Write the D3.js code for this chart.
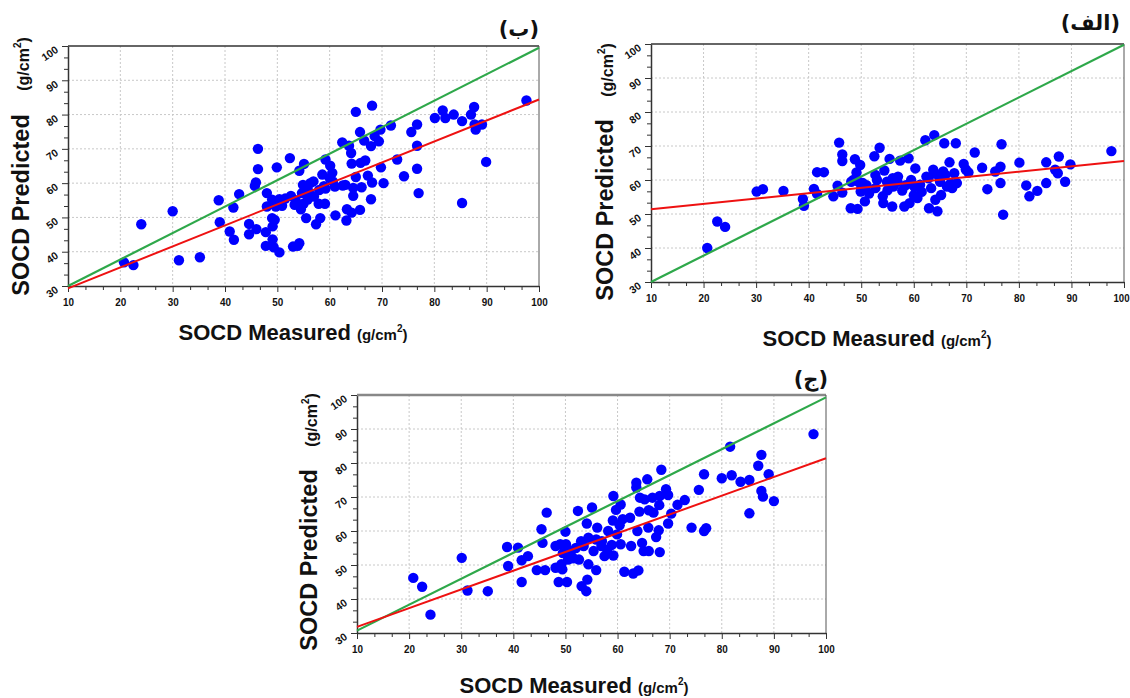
<!DOCTYPE html>
<html>
<head>
<meta charset="utf-8">
<script src="https://cdn.jsdelivr.net/npm/d3@7"></script>
<style>
  body { margin: 0; background: #fff; }
  svg { display: block; font-family: "Liberation Sans", Arial, sans-serif; }
</style>
</head>
<body>
<svg id="chart" width="1130" height="698"></svg>
<script>
// axis ticks (same for all three panels)
const xTicks = [10, 20, 30, 40, 50, 60, 70, 80, 90, 100];
const yTicks = [30, 40, 50, 60, 70, 80, 90, 100];

const xTitle = "SOCD Measured";
const yTitle = "SOCD Predicted";
const unitText = "(g/cm";

const panelLabels = ["(الف)", "(ب)", "(ج)"];

// panel الف : measured vs predicted
const pointsAlef = [
  [20.7,40.0],[22.6,47.8],[24.1,46.2],[30.1,56.6],[31.3,57.3],[35.2,56.8],[38.9,54.4],[39.1,52.4],
  [41.0,57.4],[41.6,62.3],[41.6,55.9],[42.9,62.3],[44.7,55.2],[45.5,58.3],[45.8,71.0],[46.4,67.5],
  [46.4,65.6],[46.4,56.3],[48.0,51.7],[48.1,59.5],[48.8,66.1],[49.1,62.2],[49.3,51.5],[49.5,59.5],
  [49.8,64.4],[49.9,56.6],[50.3,59.1],[50.7,53.7],[52.5,67.0],[52.7,61.5],[52.7,57.6],[53.5,69.5],
  [54.1,55.2],[54.2,53.2],[54.4,62.8],[54.9,59.5],[55.4,66.2],[55.9,52.2],[56.1,58.1],[56.9,59.5],
  [57.4,65.7],[57.8,56.9],[58.2,52.2],[59.0,66.4],[59.2,53.2],[59.5,60.0],[60.1,58.1],[60.3,63.4],
  [60.7,54.7],[61.2,58.6],[62.2,71.7],[62.4,61.0],[62.9,51.7],[63.3,57.6],[63.7,63.0],[63.9,73.2],
  [64.1,54.2],[64.5,50.8],[65.0,59.5],[65.2,55.6],[65.6,62.5],[65.8,70.8],[66.3,58.1],[66.8,65.2],
  [67.3,57.6],[67.7,62.0],[68.0,70.8],[68.2,59.1],[69.5,64.7],[69.9,63.1],[70.4,62.2],[71.6,68.1],
  [73.0,63.6],[74.0,57.3],[75.5,62.5],[76.5,63.9],[76.7,70.5],[76.5,59.1],[77.0,49.8],[80.1,65.1],
  [81.4,58.4],[82.0,55.2],[83.5,56.8],[85.2,65.2],[85.2,59.1],[86.9,63.0],[87.6,66.9],[87.4,62.0],
  [88.8,59.5],[89.8,64.6],[97.6,68.5],
  [50.0,57.5],[51.0,58.5],[53.0,60.0],[55.0,57.0],[57.0,61.0],[58.5,58.5],[61.5,56.5],[62.8,60.5],
  [64.0,62.0],[64.8,61.0],[66.0,61.5],[67.0,59.0],[48.5,60.0],[51.5,56.0],[56.0,60.5],[60.0,55.5]
];
const fitAlef = [[10, 51.4], [100, 65.6]];
const diagAlef = [[10, 30], [100, 99.8]];

// panel ب
const pointsBe = [
  [20.7,36.9],[22.5,36.1],[24.0,48.0],[30.0,51.8],[31.2,37.5],[35.2,38.4],[38.8,55.0],[39.0,48.6],
  [40.9,45.9],[41.6,52.9],[41.7,43.5],[42.7,56.8],[44.6,48.1],[44.6,45.1],[45.7,59.2],[45.9,60.2],
  [46.0,46.6],[46.3,70.0],[46.3,64.1],[48.0,57.1],[48.0,53.2],[47.8,45.7],[47.8,41.7],[49.0,55.2],
  [49.0,49.8],[49.1,47.4],[49.1,43.6],[49.3,41.3],[49.5,49.3],[49.9,64.6],[49.7,53.2],[50.4,39.8],
  [50.4,55.3],[50.9,53.4],[52.4,67.3],[52.6,56.3],[53.0,41.5],[53.3,53.7],[53.9,41.7],[54.2,42.5],
  [54.2,63.6],[54.7,57.1],[54.5,52.4],[55.1,65.6],[54.9,59.5],[55.5,49.8],[55.8,55.2],[56.3,60.0],
  [56.9,60.5],[57.0,56.1],[57.4,48.0],[57.9,54.0],[58.2,49.8],[58.6,62.5],[58.9,59.1],[59.1,54.0],
  [59.2,66.9],[59.2,58.4],[60.1,65.1],[60.5,63.0],[60.6,60.5],[61.1,50.6],[62.4,71.9],[62.5,59.3],
  [63.2,49.1],[63.3,52.4],[63.7,70.9],[64.1,68.8],[64.2,65.7],[64.5,58.6],[64.5,56.3],[64.2,51.4],
  [65.0,80.8],[65.0,61.8],[65.8,74.9],[65.9,65.9],[66.1,58.8],[65.8,52.2],[66.6,72.4],[66.8,66.6],
  [67.3,62.2],[67.9,70.8],[68.1,82.6],[68.1,60.2],[67.9,55.3],[68.6,73.7],[69.4,72.2],[69.7,75.6],
  [69.8,64.6],[70.3,60.0],[71.7,76.8],[72.9,66.9],[74.2,62.0],[75.6,74.9],[76.7,77.1],[76.7,70.9],
  [76.7,64.2],[77.0,57.1],[80.1,79.0],[81.6,81.2],[82.1,79.0],[83.7,80.0],[85.3,78.1],[85.3,54.2],
  [87.0,80.0],[87.6,82.2],[87.7,77.1],[87.9,75.6],[89.1,77.1],[89.9,66.2],[97.6,84.1],
  [51.5,55.5],[53.5,55.0],[55.0,54.0],[56.0,57.5],[58.0,58.0],[60.0,61.5],[61.0,59.0],[63.0,59.5]
];
const fitBe = [[10, 29.3], [100, 84.4]];
const diagBe = [[10, 30], [100, 99.5]];

// panel ج
const pointsJim = [
  [20.8,46.2],[22.5,43.6],[24.1,35.4],[30.1,52.1],[31.2,42.5],[35.1,42.3],[38.8,55.3],[39.0,49.7],
  [40.9,55.1],[41.6,51.4],[41.6,45.0],[42.8,52.6],[44.5,48.5],[45.4,60.5],[45.6,56.5],[46.4,65.4],
  [46.1,48.5],[48.1,55.6],[48.1,49.2],[48.7,45.0],[49.0,56.1],[49.2,50.2],[49.4,48.7],[50.0,59.8],
  [50.1,56.1],[50.3,45.0],[50.5,51.6],[51.0,53.1],[52.4,65.9],[52.6,51.6],[53.1,43.8],[53.5,55.6],
  [54.0,42.3],[54.1,62.2],[54.2,45.7],[54.4,50.2],[54.4,58.0],[55.1,66.9],[55.4,54.1],[55.9,48.5],
  [56.1,61.0],[55.9,57.5],[56.9,55.6],[57.5,52.6],[58.2,60.0],[58.9,55.9],[59.1,63.1],[59.2,52.8],
  [59.2,70.3],[59.7,66.2],[59.9,59.0],[60.4,61.7],[60.6,56.1],[60.6,67.8],[61.3,48.0],[62.4,63.9],
  [62.6,55.6],[63.0,47.5],[63.6,74.2],[63.6,72.8],[63.8,60.0],[64.0,48.4],[64.3,69.8],[64.2,65.7],
  [64.7,56.5],[65.0,54.1],[65.2,69.3],[65.7,75.2],[65.9,61.0],[66.0,66.1],[66.0,54.1],[66.7,69.8],
  [66.9,65.4],[67.4,58.2],[68.0,67.6],[67.9,60.2],[68.1,53.8],[68.4,78.0],[68.1,70.3],[69.3,72.3],
  [69.7,70.6],[69.7,62.2],[70.3,65.1],[71.5,67.7],[72.9,69.1],[74.2,61.0],[75.6,72.1],[76.6,76.7],
  [76.6,60.0],[77.0,60.8],[80.0,75.5],[81.6,84.8],[81.9,76.4],[83.6,74.5],[85.3,75.0],[85.3,65.2],
  [87.0,79.2],[87.6,82.4],[87.6,71.8],[87.9,70.1],[89.0,76.7],[90.0,68.8],[97.6,88.5],
  [49.5,53.5],[50.5,54.5],[51.5,52.0],[52.0,55.0],[53.0,57.0],[57.0,57.0],[58.0,54.5],[61.0,63.5]
];
const fitJim = [[10, 31.8], [100, 81.4]];
const diagJim = [[10, 30.7], [100, 99.3]];

const svg = d3.select("#chart");

const panels = [
  { label: panelLabels[0], points: pointsAlef, fit: fitAlef, diag: diagAlef,
    left: 651, right: 1124, top: 44, bottom: 282, topStroke: "#333", topWidth: 1.5,
    xTitleX: 877, xTitleY: 346, yTitleX: 613, yTitleY: 210, unitX: 613, unitY: 70, labelX: 1120, labelY: 30 },
  { label: panelLabels[1], points: pointsBe, fit: fitBe, diag: diagBe,
    left: 68, right: 539, top: 46, bottom: 286, topStroke: "#333", topWidth: 1.5,
    xTitleX: 293, xTitleY: 340, yTitleX: 29, yTitleY: 205, unitX: 29, unitY: 64, labelX: 539, labelY: 36 },
  { label: panelLabels[2], points: pointsJim, fit: fitJim, diag: diagJim,
    left: 357, right: 826, top: 395, bottom: 633, topStroke: "#888", topWidth: 2.5,
    xTitleX: 574, xTitleY: 693, yTitleX: 317, yTitleY: 560, unitX: 317, unitY: 420, labelX: 828, labelY: 386 }
];

panels.forEach(p => {
  const x = d3.scaleLinear().domain([10, 100]).range([p.left, p.right]);
  const y = d3.scaleLinear().domain([30, 100]).range([p.bottom, p.top]);
  const g = svg.append("g");

  // dotted grid
  g.append("g").selectAll("line").data(xTicks.slice(1, -1)).join("line")
    .attr("x1", d => x(d)).attr("x2", d => x(d)).attr("y1", p.top).attr("y2", p.bottom)
    .attr("stroke", "#c8c8c8").attr("stroke-dasharray", "2,2");
  g.append("g").selectAll("line").data(yTicks.slice(1, -1)).join("line")
    .attr("x1", p.left).attr("x2", p.right).attr("y1", d => y(d)).attr("y2", d => y(d))
    .attr("stroke", "#c8c8c8").attr("stroke-dasharray", "2,2");

  // minor ticks: two between each pair of majors
  const xMinor = xTicks.slice(0, -1).flatMap(t => [t + 10 / 3, t + 20 / 3]);
  const yMinor = yTicks.slice(0, -1).flatMap(t => [t + 10 / 3, t + 20 / 3]);

  g.append("g").attr("transform", `translate(0,${p.bottom})`)
    .call(d3.axisBottom(x).tickValues(xMinor).tickSize(4).tickFormat(""))
    .call(a => a.select(".domain").remove())
    .call(a => a.selectAll("line").attr("stroke", "#333"));
  g.append("g").attr("transform", `translate(${p.left},0)`)
    .call(d3.axisLeft(y).tickValues(yMinor).tickSize(4).tickFormat(""))
    .call(a => a.select(".domain").remove())
    .call(a => a.selectAll("line").attr("stroke", "#333"));

  const xa = g.append("g").attr("transform", `translate(0,${p.bottom})`)
    .call(d3.axisBottom(x).tickValues(xTicks).tickSize(6).tickSizeOuter(0).tickPadding(6));
  xa.select(".domain").attr("stroke", "#333").attr("stroke-width", 1.5);
  xa.selectAll("line").attr("stroke", "#333");
  xa.selectAll("text").attr("font-size", 11).attr("font-weight", "bold").attr("fill", "#111")
    .attr("transform", d => d === 100 && p.right > 1100 ? "translate(-3,0) scale(0.88,1)" : "scale(0.9,1)");

  const ya = g.append("g").attr("transform", `translate(${p.left},0)`)
    .call(d3.axisLeft(y).tickValues(yTicks).tickSize(6).tickSizeOuter(0));
  ya.select(".domain").attr("stroke", "#333").attr("stroke-width", 1.5);
  ya.selectAll("line").attr("stroke", "#333");
  ya.selectAll("text").attr("font-size", 10.5).attr("font-weight", "bold").attr("fill", "#111")
    .attr("x", 0).attr("dy", 0).attr("text-anchor", "end")
    .attr("transform", "translate(-9,5) rotate(-35)");

  // top and right frame
  g.append("line").attr("x1", p.left).attr("x2", p.right).attr("y1", p.top).attr("y2", p.top)
    .attr("stroke", p.topStroke).attr("stroke-width", p.topWidth);
  g.append("line").attr("x1", p.right).attr("x2", p.right).attr("y1", p.top).attr("y2", p.bottom)
    .attr("stroke", "#555").attr("stroke-width", 1);

  // points
  g.append("g").selectAll("circle").data(p.points).join("circle")
    .attr("cx", d => x(d[0])).attr("cy", d => y(d[1])).attr("r", 5.2)
    .attr("fill", "#0000ff");

  const line = d3.line().x(d => x(d[0])).y(d => y(d[1]));
  g.append("path").attr("d", line(p.diag)).attr("fill", "none")
    .attr("stroke", "#2ea84a").attr("stroke-width", 2.2);
  g.append("path").attr("d", line(p.fit)).attr("fill", "none")
    .attr("stroke", "#ee1111").attr("stroke-width", 2);

  // axis titles
  const xt = g.append("text").attr("x", p.xTitleX).attr("y", p.xTitleY)
    .attr("text-anchor", "middle").attr("font-weight", "bold").attr("fill", "#111");
  xt.append("tspan").attr("font-size", 22).text(xTitle + "  ");
  xt.append("tspan").attr("font-size", 15).text(unitText);
  xt.append("tspan").attr("font-size", 10).attr("dy", -8).text("2");
  xt.append("tspan").attr("font-size", 15).attr("dy", 8).text(")");

  g.append("text").attr("transform", `translate(${p.yTitleX},${p.yTitleY}) rotate(-90)`)
    .attr("text-anchor", "middle").attr("font-weight", "bold").attr("font-size", 23.5)
    .attr("fill", "#111").text(yTitle);
  const ut = g.append("text").attr("transform", `translate(${p.unitX},${p.unitY}) rotate(-90)`)
    .attr("text-anchor", "middle").attr("font-weight", "bold").attr("fill", "#111");
  ut.append("tspan").attr("font-size", 16).text(unitText);
  ut.append("tspan").attr("font-size", 10).attr("dy", -8).text("2");
  ut.append("tspan").attr("font-size", 16).attr("dy", 8).text(")");

  // panel label
  g.append("text").attr("x", p.labelX).attr("y", p.labelY).attr("text-anchor", "end")
    .attr("font-family", "'DejaVu Sans', sans-serif").attr("font-weight", "bold")
    .attr("font-size", 21).attr("fill", "#111").text(p.label);
});
</script>
</body>
</html>
